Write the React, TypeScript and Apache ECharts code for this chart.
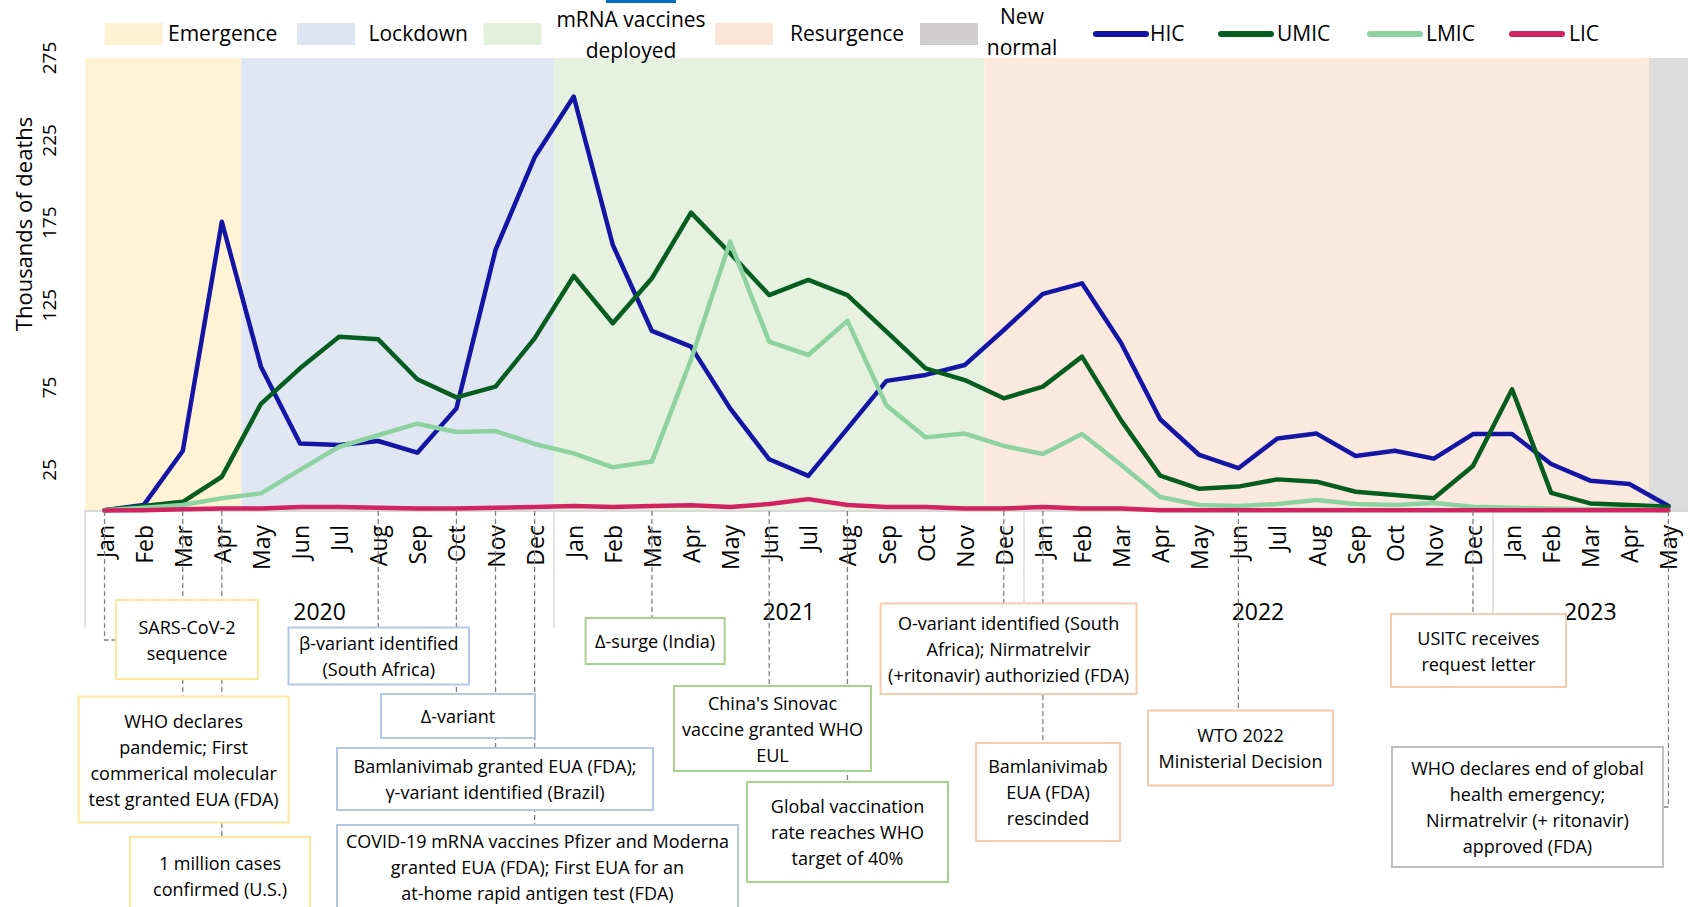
import React, { useEffect, useRef } from "react";
import * as echarts from "echarts";

// ---------- DATA ----------
const MONTHS = [
  "Jan 2020", "Feb 2020", "Mar 2020", "Apr 2020", "May 2020", "Jun 2020", "Jul 2020", "Aug 2020", "Sep 2020", "Oct 2020", "Nov 2020", "Dec 2020",
  "Jan 2021", "Feb 2021", "Mar 2021", "Apr 2021", "May 2021", "Jun 2021", "Jul 2021", "Aug 2021", "Sep 2021", "Oct 2021", "Nov 2021", "Dec 2021",
  "Jan 2022", "Feb 2022", "Mar 2022", "Apr 2022", "May 2022", "Jun 2022", "Jul 2022", "Aug 2022", "Sep 2022", "Oct 2022", "Nov 2022", "Dec 2022",
  "Jan 2023", "Feb 2023", "Mar 2023", "Apr 2023", "May 2023",
];

const HIC = [0.5, 3.6, 36.4, 175.6, 87.6, 41, 40, 42.5, 35.4, 62.3, 158.5, 214.7,
  251.6, 161.5, 109.3, 99.8, 62.3, 31.4, 21.3, 50, 79, 82.6, 88.6, 109.9,
  131.8, 138.2, 102, 55.7, 34, 26, 44, 47, 33.4, 36.6, 31.8, 46.7,
  46.7, 28.5, 18.4, 16.4, 3];
const UMIC = [0.5, 3, 5.6, 20.8, 65, 86.6, 105.8, 104.2, 80, 69, 75.5, 104.8,
  142.7, 114, 141.3, 181.1, 156.5, 131.1, 140.3, 131.1, 108.9, 86.6, 79.5, 68.4,
  75.5, 93.7, 55, 21.5, 13.5, 14.8, 19.2, 17.8, 11.7, 9.7, 7.7, 27.3,
  73.9, 11, 4.6, 3.6, 2.6];
const LMIC = [0.5, 2, 3.6, 7.7, 10.7, 25, 39, 46, 53, 48, 48.5, 40.7,
  35, 26.5, 30, 92, 163.5, 102.8, 94.7, 115.4, 64, 44.7, 47, 39.5,
  34.6, 46.7, 28, 8.5, 3.6, 3, 4.2, 6.7, 4.2, 3.6, 4.8, 2.6,
  2, 1.5, 1, 1, 0.5];
const LIC = [0.3, 0.5, 1, 1.5, 1.5, 2.5, 2.5, 2, 1.5, 1.5, 2, 2.5,
  3, 2.5, 3, 3.5, 2.5, 4.2, 7.2, 3.6, 2.5, 2.5, 1.5, 1.5,
  2.5, 1.5, 1.5, 0.5, 0.5, 0.5, 0.5, 0.5, 0.5, 0.5, 0.5, 0.5,
  0.5, 0.5, 0.5, 0.5, 0.5];

const SERIES_NAMES = ["HIC", "UMIC", "LMIC", "LIC"];
const SERIES_VALUES = [HIC, UMIC, LMIC, LIC];
const Y_TICKS = [25, 75, 125, 175, 225, 275];
const Y_NAME = "Thousands of deaths";

const PHASES = [
  { name: "Emergence", from: "Jan 2020", to: "Apr 2020" },
  { name: "Lockdown", from: "May 2020", to: "Dec 2020" },
  { name: "mRNA vaccines\ndeployed", from: "Jan 2021", to: "Nov 2021" },
  { name: "Resurgence", from: "Dec 2021", to: "Apr 2023" },
  { name: "New\nnormal", from: "May 2023", to: "May 2023" },
];

const EVENTS = [
  { month: "Jan 2020", phase: 0, text: ["SARS-CoV-2", "sequence"] },
  { month: "Mar 2020", phase: 0, text: ["WHO declares", "pandemic; First", "commerical molecular", "test granted EUA (FDA)"] },
  { month: "Apr 2020", phase: 0, text: ["1 million cases", "confirmed (U.S.)"] },
  { month: "Aug 2020", phase: 1, text: ["β-variant identified", "(South Africa)"] },
  { month: "Oct 2020", phase: 1, text: ["Δ-variant"] },
  { month: "Nov 2020", phase: 1, text: ["Bamlanivimab granted EUA (FDA);", "γ-variant identified (Brazil)"] },
  { month: "Dec 2020", phase: 1, text: ["COVID-19 mRNA vaccines Pfizer and Moderna", "granted EUA (FDA); First EUA for an", "at-home rapid antigen test (FDA)"] },
  { month: "Mar 2021", phase: 2, text: ["Δ-surge (India)"] },
  { month: "Jun 2021", phase: 2, text: ["China's Sinovac", "vaccine granted WHO", "EUL"] },
  { month: "Aug 2021", phase: 2, text: ["Global vaccination", "rate reaches WHO", "target of 40%"] },
  { month: "Dec 2021", phase: 3, text: ["O-variant identified (South", "Africa); Nirmatrelvir", "(+ritonavir) authorizied (FDA)"] },
  { month: "Jan 2022", phase: 3, text: ["Bamlanivimab", "EUA (FDA)", "rescinded"] },
  { month: "Jun 2022", phase: 3, text: ["WTO 2022", "Ministerial Decision"] },
  { month: "Dec 2022", phase: 3, text: ["USITC receives", "request letter"] },
  { month: "May 2023", phase: 4, text: ["WHO declares end of global", "health emergency;", "Nirmatrelvir (+ ritonavir)", "approved (FDA)"] },
];

// ---------- LAYOUT / STYLE ----------
const FONT = "'Open Sans', 'Noto Sans', sans-serif";
const PHASE_FILL = ["#FFF2D5", "#E0E7F3", "#E6F1DF", "#FBE9DD", "#DDDCDC"];
const PHASE_SWATCH = ["#FFF2D3", "#DDE5F3", "#E3F0DA", "#FBE5D6", "#D0CECE"];
const PHASE_BORDER = ["#FFE699", "#B4C7E7", "#A9D18E", "#F8CBAD", "#BFBFBF"];
const LINE_COLORS = ["#1515A5", "#055E1F", "#8DD3A1", "#D1235F"];

const GRID = { left: 85, top: 58, width: 1611, height: 453 };

// legend layout
const PHASE_LEGEND = [
  { sx: 104.5, tx: 168, ty: 33, align: "left" },
  { sx: 297, tx: 368.5, ty: 33, align: "left" },
  { sx: 483.5, tx: 631, ty: 34.5, align: "center", lh: 31 },
  { sx: 715, tx: 790, ty: 33, align: "left" },
  { sx: 920, tx: 1022, ty: 31.5, align: "center", lh: 30.5 },
];
const LINE_LEGEND = [
  { x1: 1096, x2: 1146, tx: 1150 },
  { x1: 1221, x2: 1271, tx: 1277 },
  { x1: 1370, x2: 1420, tx: 1426 },
  { x1: 1512, x2: 1562, tx: 1569 },
];

// event box layout (same order as EVENTS)
const BOXES = [
  { x: 116, y: 600, w: 142, h: 79, elbow: 640 },
  { x: 78.6, y: 696.5, w: 210, h: 126 },
  { x: 130, y: 837, w: 180, h: 90, cy: 876 },
  { x: 288.5, y: 627.5, w: 180.5, h: 57 },
  { x: 381, y: 694, w: 154, h: 44 },
  { x: 337, y: 748, w: 316, h: 62 },
  { x: 337, y: 825, w: 401, h: 95, cy: 866.5 },
  { x: 585.6, y: 618, w: 139, h: 46 },
  { x: 674, y: 686, w: 197, h: 85 },
  { x: 747, y: 782, w: 201, h: 100 },
  { x: 880.6, y: 603.5, w: 256, h: 90.5 },
  { x: 976, y: 743, w: 144, h: 98 },
  { x: 1148, y: 710.5, w: 185, h: 75 },
  { x: 1391, y: 614, w: 175, h: 73 },
  { x: 1392, y: 747, w: 271, h: 120, elbow: 807 },
];

const monthIdx = (m: string) => MONTHS.indexOf(m);
const monthLabel = (v: number) => (MONTHS[Math.round(v)] || "").split(" ")[0];

// year groups derived from categories
const YEARS: string[] = [];
MONTHS.forEach((m) => {
  const y = m.split(" ")[1];
  if (!YEARS.includes(y)) YEARS.push(y);
});
const yearFirst = (y: string) => MONTHS.findIndex((m) => m.endsWith(y));
const yearLast = (y: string) => {
  let k = -1;
  MONTHS.forEach((m, i) => { if (m.endsWith(y)) k = i; });
  return k;
};
const YEAR_CENTERS = YEARS.map((y) => (yearFirst(y) + yearLast(y)) / 2);
const YEAR_SEPARATORS = YEARS.map((y) => yearFirst(y) - 0.5);

export default function App() {
  const ref = useRef<HTMLDivElement>(null);

  useEffect(() => {
    document.body.style.margin = "0";
    const chart = echarts.init(ref.current!, null, { renderer: "svg" });

    const bandSeries = PHASES.map((p, k) => ({
      type: "custom",
      name: p.name,
      silent: true,
      z: 0,
      clip: false,
      renderItem: (params: any, api: any) => {
        const a = api.coord([api.value(0), 275]);
        const b = api.coord([api.value(1), 0]);
        return {
          type: "rect",
          shape: { x: a[0], y: a[1], width: b[0] - a[0], height: b[1] - a[1] },
          style: { fill: PHASE_FILL[k] },
        };
      },
      data: [[monthIdx(p.from) - 0.5, k === PHASES.length - 1 ? monthIdx(p.to) + 1.5 : monthIdx(p.to) + 0.5]],
    }));

    const lineSeries = SERIES_NAMES.map((n, k) => ({
      type: "line",
      name: n,
      data: SERIES_VALUES[k].map((v, i) => [i, v]),
      symbol: "none",
      silent: true,
      z: 3 + k,
      lineStyle: { width: 4.5, color: LINE_COLORS[k], cap: "round", join: "round" },
      itemStyle: { color: LINE_COLORS[k] },
    }));

    chart.setOption({
      animation: false,
      textStyle: { fontFamily: FONT },
      grid: GRID,
      xAxis: [
        {
          type: "value",
          min: -0.5,
          max: 40.5,
          axisLine: { show: true, lineStyle: { color: "#D9D9D9", width: 2 } },
          axisTick: { show: false },
          splitLine: { show: false },
          axisLabel: {
            customValues: MONTHS.map((_, i) => i),
            formatter: (v: number) => monthLabel(v),
            rotate: 90,
            align: "right",
            verticalAlign: "middle",
            margin: 14,
            fontSize: 23,
            color: "#000",
            fontFamily: FONT,
          },
        },
        {
          type: "value",
          position: "bottom",
          min: -0.5,
          max: 40.5,
          axisLine: { show: false },
          axisTick: {
            show: true,
            customValues: YEAR_SEPARATORS,
            length: 117,
            lineStyle: { color: "#D9D9D9", width: 1.5 },
          },
          splitLine: { show: false },
          axisLabel: {
            customValues: YEAR_CENTERS,
            formatter: (v: number) => {
              const k = YEAR_CENTERS.findIndex((c) => Math.abs(c - v) < 0.01);
              return k >= 0 ? YEARS[k] : "";
            },
            verticalAlign: "middle",
            margin: 100,
            fontSize: 23,
            color: "#000",
            fontFamily: FONT,
          },
        },
      ],
      yAxis: {
        type: "value",
        min: 0,
        max: 275,
        axisLine: { show: false },
        axisTick: { show: false },
        splitLine: { show: false },
        axisLabel: {
          customValues: Y_TICKS,
          rotate: 90,
          align: "center",
          verticalAlign: "bottom",
          margin: 27,
          fontSize: 19,
          color: "#000",
          fontFamily: FONT,
        },
      },
      series: [...bandSeries, ...lineSeries],
    });

    const px = (i: number) => chart.convertToPixel({ xAxisIndex: 0 }, i) as number;
    const base = chart.convertToPixel({ yAxisIndex: 0 }, 0) as number;

    const els: any[] = [];
    const text = (t: string, x: number, y: number, size: number, align = "left", lh?: number, rotation?: number) => ({
      type: "text",
      x,
      y,
      rotation: rotation || 0,
      z: 20,
      silent: true,
      style: {
        text: t,
        x: 0,
        y: 0,
        fill: "#000",
        fontSize: size,
        fontFamily: FONT,
        align,
        verticalAlign: "middle",
        lineHeight: lh || Math.round(size * 1.3),
      },
    });

    // cut-off header highlight at top
    els.push({ type: "rect", z: 20, silent: true, shape: { x: 606, y: 0, width: 70, height: 3 }, style: { fill: "#0070C0" } });

    // y axis name
    els.push(text(Y_NAME, 23, 224, 22, "center", undefined, Math.PI / 2));

    // phase legend
    PHASES.forEach((p, k) => {
      const L = PHASE_LEGEND[k];
      els.push({ type: "rect", z: 20, silent: true, shape: { x: L.sx, y: 23, width: 58, height: 22 }, style: { fill: PHASE_SWATCH[k] } });
      els.push(text(p.name, L.tx, L.ty, 21, L.align, L.lh));
    });
    // line legend
    SERIES_NAMES.forEach((n, k) => {
      const L = LINE_LEGEND[k];
      els.push({
        type: "line", z: 20, silent: true,
        shape: { x1: L.x1, y1: 34, x2: L.x2, y2: 34 },
        style: { stroke: LINE_COLORS[k], lineWidth: 6, lineCap: "round" },
      });
      els.push(text(n, L.tx, 33, 21, "left"));
    });

    // connectors
    EVENTS.forEach((e, k) => {
      const B = BOXES[k];
      const x = px(monthIdx(e.month));
      const style = { stroke: "#7F7F7F", lineWidth: 1.3, lineDash: [5, 3], fill: null };
      if (B.elbow) {
        const endX = B.x + B.w / 2 < x ? B.x + B.w : B.x;
        els.push({
          type: "polyline", z: 15, silent: true,
          shape: { points: [[x, base], [x, B.elbow], [endX, B.elbow]] },
          style,
        });
      } else {
        els.push({
          type: "line", z: 15, silent: true,
          shape: { x1: x, y1: base, x2: x, y2: B.y },
          style,
        });
      }
    });

    // boxes
    EVENTS.forEach((e, k) => {
      const B = BOXES[k];
      els.push({
        type: "rect", z: 18, silent: true,
        shape: { x: B.x, y: B.y, width: B.w, height: B.h },
        style: { fill: "#FFFFFF", stroke: PHASE_BORDER[e.phase], lineWidth: 2 },
      });
      const cy = B.cy !== undefined ? B.cy : B.y + B.h / 2;
      els.push(text(e.text.join("\n"), B.x + B.w / 2, cy, 18, "center", 26));
    });

    chart.setOption({ graphic: { elements: els } });

    return () => chart.dispose();
  }, []);

  return (
    <div
      ref={ref}
      style={{ position: "fixed", left: 0, top: 0, width: 1688, height: 907, background: "#FFFFFF" }}
    />
  );
}
